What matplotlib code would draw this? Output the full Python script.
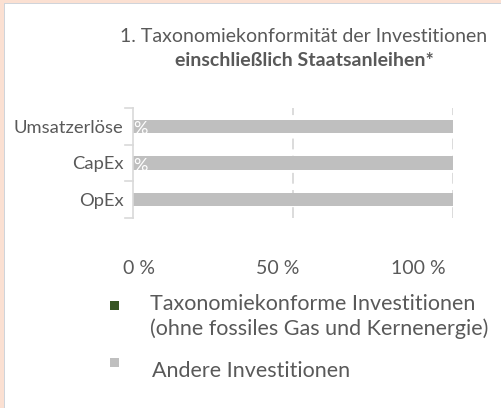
import matplotlib
matplotlib.use("Agg")
import matplotlib.pyplot as plt
from matplotlib.patches import Rectangle
from matplotlib.transforms import ScaledTranslation

# data
categories = ["Umsatzerlöse", "CapEx", "OpEx"]
aligned = [0.0, 0.0, 0.0]          # Taxonomiekonforme Investitionen (%)
other = [100.0, 100.0, 100.0]      # Andere Investitionen (%)
show_label = [True, True, False]
xticks = [0, 50, 100]
xtick_labels = ["0 %", "50 %", "100 %"]
legend_labels = [
    "Taxonomiekonforme Investitionen\n(ohne fossiles Gas und Kernenergie)",
    "Andere Investitionen",
]

GREEN = "#375623"
GREY = "#bfbfbf"
TXT = "#595959"
GRID = "#d9d9d9"

plt.rcParams["font.family"] = ["Lato", "DejaVu Sans"]

W, H = 502, 408
fig = plt.figure(figsize=(W / 100, H / 100), dpi=100)
fig.patch.set_facecolor("white")


def fx(px):
    return px / W


def fy(py):
    return 1 - py / H


# peach frame (only left and top edges are inside the crop)
fig.patches.append(Rectangle((0, 0), fx(4), 1, transform=fig.transFigure,
                             facecolor="#fbe0d2", edgecolor="none"))
fig.patches.append(Rectangle((0, fy(3)), 1, 3 / H, transform=fig.transFigure,
                             facecolor="#fbe0d2", edgecolor="none"))
fig.patches.append(Rectangle((fx(4), 0), fx(1), fy(3), transform=fig.transFigure,
                             facecolor="#d0d4da", edgecolor="none"))
fig.patches.append(Rectangle((fx(4), fy(4)), 1 - fx(4), 1 / H,
                             transform=fig.transFigure, facecolor="#d0d4da", edgecolor="none"))

ax = fig.add_axes([fx(133), fy(218), fx(453) - fx(133), 110 / H])

y = [len(categories) - 1 - i for i in range(len(categories))]
h = 0.37
b1 = ax.barh(y, aligned, height=h, color=GREEN)
b2 = ax.barh(y, other, left=aligned, height=h, color=GREY)

for yi, val, lab in zip(y, aligned, show_label):
    if lab:
        ax.text(val, yi - 0.08, "%", color="white", ha="left", va="center", fontsize=13)

ax.set_xlim(0, 100)
ax.set_ylim(-0.5, len(categories) - 0.5)
ax.set_xticks(xticks)
ax.set_xticklabels(xtick_labels, color=TXT, fontsize=14)
ax.tick_params(axis="x", length=0, pad=30)
# Excel places these labels slightly off their gridlines
for lbl, dx in zip(ax.get_xticklabels(), [6, -15, -35]):
    lbl.set_transform(lbl.get_transform() + ScaledTranslation(dx / 100, 0, fig.dpi_scale_trans))

ax.set_yticks(y)
ax.set_yticklabels(categories, color=TXT, fontsize=13.2)
ax.tick_params(axis="y", length=0, pad=7)

# category boundary tick marks on the y axis
for yb in [-0.5, 0.5, 1.5, 2.5]:
    ax.plot([-2.5, 0], [yb, yb], color=GRID, lw=1.2, clip_on=False)

for xv in [50, 100]:
    ax.axvline(xv, color=GRID, lw=1.3, ls=(0, (6, 3.5)), zorder=0)

for s in ["top", "right", "bottom"]:
    ax.spines[s].set_visible(False)
ax.spines["left"].set_color(GRID)
ax.spines["left"].set_linewidth(1.2)
ax.set_facecolor("none")

fig.text(fx(304), fy(36), "1. Taxonomiekonformität der Investitionen",
         ha="center", va="center", color=TXT, fontsize=14)
fig.text(fx(304), fy(60), "einschließlich Staatsanleihen*",
         ha="center", va="center", color=TXT, fontsize=14, fontweight="bold")

# legend, laid out like the Excel one
fig.patches.append(Rectangle((fx(110), fy(310)), fx(9), 9 / H, transform=fig.transFigure,
                             facecolor=GREEN, edgecolor="none"))
fig.patches.append(Rectangle((fx(110), fy(367)), fx(9), 9 / H, transform=fig.transFigure,
                             facecolor=GREY, edgecolor="none"))
fig.text(fx(150), fy(294), legend_labels[0], ha="left", va="top", color=TXT,
         fontsize=15.5, linespacing=1.25)
fig.text(fx(152), fy(371), legend_labels[1], ha="left", va="center", color=TXT,
         fontsize=15.5)

fig.savefig("out.png", dpi=100, facecolor="white")
